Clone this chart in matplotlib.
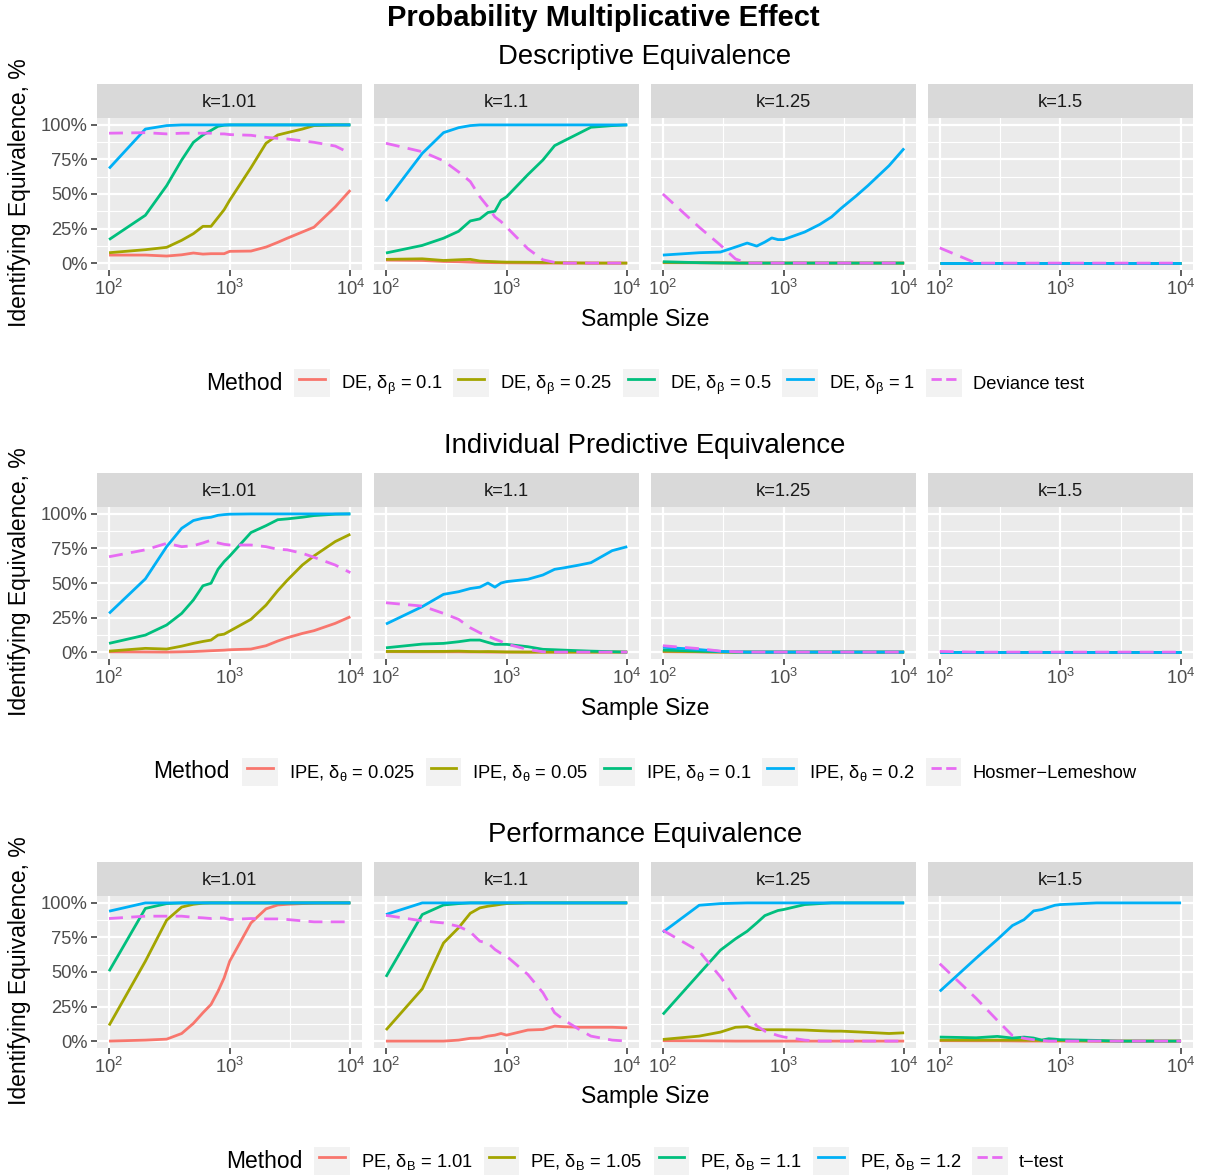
import matplotlib
matplotlib.use("Agg")
import matplotlib.pyplot as plt
from matplotlib.lines import Line2D
from matplotlib.patches import Rectangle
from matplotlib.legend_handler import HandlerLine2D
from matplotlib.ticker import FixedLocator

plt.rcParams['font.family'] = ['Liberation Sans', 'DejaVu Sans']
plt.rcParams['mathtext.fontset'] = 'custom'
plt.rcParams['mathtext.rm'] = 'Liberation Sans'
plt.rcParams['mathtext.it'] = 'Liberation Sans:italic'
plt.rcParams['mathtext.bf'] = 'Liberation Sans:bold'

# sample sizes
n = [100, 200, 300, 400, 500, 600, 700, 800, 900, 1000, 1500, 2000, 2500, 3000, 4000, 5000, 7500, 10000]
ks = ['k=1.01', 'k=1.1', 'k=1.25', 'k=1.5']
colors = ['#F8766D', '#A3A500', '#00BF7D', '#00B0F6', '#E76BF3']

# --- Descriptive equivalence (red, olive, green, blue, deviance test) ---
de_101 = [
    [5.8, 5.8, 5.1, 6.0, 7.3, 6.5, 6.8, 6.8, 6.8, 8.5, 8.7, 11.6, 15.0, 18.0, 22.5, 26.0, 40.7, 52.8],
    [7.5, 9.7, 11.4, 16.5, 21.3, 26.6, 26.6, 33.0, 38.7, 45.5, 69.0, 86.7, 92.7, 94.4, 97.0, 99.5, 100, 100],
    [17.0, 34.6, 56.0, 74.6, 87.4, 92.7, 96.0, 99.0, 99.8, 100, 100, 100, 100, 100, 100, 100, 100, 100],
    [68.5, 97.0, 99.5, 100, 100, 100, 100, 100, 100, 100, 100, 100, 100, 100, 100, 100, 100, 100],
    [94.0, 94.4, 93.5, 94.0, 94.0, 94.0, 94.0, 93.5, 93.5, 93.0, 92.5, 91.0, 90.3, 89.8, 88.5, 87.4, 84.7, 79.4],
]
de_110 = [
    [2.2, 1.9, 1.2, 1.0, 0.7, 0.5, 0.4, 0.3, 0.3, 0.2, 0.1, 0, 0, 0, 0, 0, 0, 0],
    [2.7, 3.1, 1.9, 2.4, 2.7, 1.5, 1.2, 1.0, 0.8, 0.7, 0.6, 0.5, 0.3, 0.2, 0.1, 0, 0, 0],
    [7.3, 12.8, 18.0, 23.0, 30.5, 32.0, 36.6, 37.5, 45.5, 48.0, 64.0, 74.6, 85.0, 88.5, 94.0, 98.3, 99.5, 100],
    [44.8, 79.4, 94.4, 98.0, 99.5, 100, 100, 100, 100, 100, 100, 100, 100, 100, 100, 100, 100, 100],
    [86.7, 80.6, 74.0, 66.0, 59.0, 48.0, 40.7, 33.4, 30.0, 26.0, 10.4, 2.4, 0.5, 0, 0, 0, 0, 0],
]
de_125 = [
    [0.3, 0.2, 0.1, 0, 0, 0, 0, 0, 0, 0, 0, 0, 0, 0, 0, 0, 0, 0],
    [0.5, 0.3, 0.2, 0.1, 0, 0, 0, 0, 0, 0, 0, 0, 0, 0, 0, 0, 0, 0],
    [1.0, 0.3, 0.1, 0, 0, 0, 0, 0, 0, 0, 0, 0, 0, 0, 0, 0, 0, 0],
    [5.8, 7.5, 8.0, 11.6, 14.5, 12.3, 15.2, 18.2, 17.0, 17.0, 22.5, 28.0, 33.4, 39.6, 48.6, 56.0, 70.5, 83.0],
    [50.0, 26.0, 13.0, 3.0, 0, 0, 0, 0, 0, 0, 0, 0, 0, 0, 0, 0, 0, 0],
]
de_150 = [
    [0, 0, 0, 0, 0, 0, 0, 0, 0, 0, 0, 0, 0, 0, 0, 0, 0, 0],
    [0, 0, 0, 0, 0, 0, 0, 0, 0, 0, 0, 0, 0, 0, 0, 0, 0, 0],
    [0, 0, 0, 0, 0, 0, 0, 0, 0, 0, 0, 0, 0, 0, 0, 0, 0, 0],
    [0, 0, 0, 0, 0, 0, 0, 0, 0, 0, 0, 0, 0, 0, 0, 0, 0, 0],
    [11.0, 0, 0, 0, 0, 0, 0, 0, 0, 0, 0, 0, 0, 0, 0, 0, 0, 0],
]

# --- Individual predictive equivalence (red, olive, green, blue, Hosmer-Lemeshow) ---
ipe_101 = [
    [0.2, 0.1, 0, 0.2, 0.4, 0.7, 1.0, 1.2, 1.4, 1.7, 2.2, 4.6, 8.0, 10.4, 13.5, 15.5, 20.8, 25.6],
    [0.7, 2.7, 2.2, 4.3, 6.3, 7.7, 8.7, 12.3, 13.0, 15.2, 23.7, 34.0, 44.4, 52.0, 63.0, 69.6, 80.0, 85.3],
    [6.3, 12.3, 19.6, 28.0, 37.7, 48.0, 49.8, 59.9, 65.5, 69.5, 86.5, 91.5, 95.8, 96.4, 97.6, 98.8, 99.8, 100],
    [28.0, 53.0, 76.3, 89.6, 95.2, 96.9, 97.6, 99.0, 99.5, 99.8, 100, 100, 100, 100, 100, 100, 100, 100],
    [69.0, 74.0, 78.7, 76.3, 77.0, 79.0, 81.0, 79.0, 78.0, 77.5, 77.5, 76.3, 74.4, 74.0, 71.5, 68.6, 63.0, 57.5],
]
ipe_110 = [
    [0.3, 0.2, 0.2, 0.2, 0.1, 0.1, 0, 0, 0, 0, 0, 0, 0, 0, 0, 0, 0, 0],
    [0.5, 0.5, 0.5, 0.7, 0.4, 0.3, 0.4, 0.3, 0.2, 0.1, 0, 0, 0, 0, 0, 0, 0, 0],
    [3.1, 5.8, 6.3, 7.5, 8.7, 8.7, 7.0, 5.6, 5.6, 5.6, 3.9, 2.0, 1.7, 1.4, 1.0, 0.7, 0.3, 0],
    [20.3, 32.9, 41.8, 43.7, 46.0, 47.0, 50.0, 47.0, 50.0, 51.0, 52.7, 55.8, 59.9, 61.0, 63.0, 64.7, 73.4, 76.3],
    [35.7, 33.3, 28.0, 23.7, 17.6, 14.0, 11.6, 9.4, 7.7, 5.8, 1.9, 0.2, 0, 0, 0, 0, 0, 0],
]
ipe_125 = [
    [0.3, 0.1, 0, 0, 0, 0, 0, 0, 0, 0, 0, 0, 0, 0, 0, 0, 0, 0],
    [0.7, 0.3, 0, 0, 0, 0, 0, 0, 0, 0, 0, 0, 0, 0, 0, 0, 0, 0],
    [1.5, 0.7, 0.3, 0, 0, 0, 0, 0, 0, 0, 0, 0, 0, 0, 0, 0, 0, 0],
    [3.5, 1.8, 0.5, 0.2, 0, 0, 0, 0, 0, 0, 0, 0, 0, 0, 0, 0, 0, 0],
    [4.6, 2.5, 0.7, 0.3, 0, 0, 0, 0, 0, 0, 0, 0, 0, 0, 0, 0, 0, 0],
]
ipe_150 = [
    [0, 0, 0, 0, 0, 0, 0, 0, 0, 0, 0, 0, 0, 0, 0, 0, 0, 0],
    [0, 0, 0, 0, 0, 0, 0, 0, 0, 0, 0, 0, 0, 0, 0, 0, 0, 0],
    [0, 0, 0, 0, 0, 0, 0, 0, 0, 0, 0, 0, 0, 0, 0, 0, 0, 0],
    [0, 0, 0, 0, 0, 0, 0, 0, 0, 0, 0, 0, 0, 0, 0, 0, 0, 0],
    [0.5, 0, 0, 0, 0, 0, 0, 0, 0, 0, 0, 0, 0, 0, 0, 0, 0, 0],
]

# --- Performance equivalence (red, olive, green, blue, t-test) ---
pe_101 = [
    [0, 0.7, 1.4, 5.5, 12.8, 20.5, 26.5, 36.0, 45.8, 57.8, 85.5, 95.7, 98.5, 99.0, 99.5, 99.8, 100, 100],
    [11.3, 57.8, 87.5, 97.0, 99.0, 99.8, 100, 100, 100, 100, 100, 100, 100, 100, 100, 100, 100, 100],
    [50.6, 96.0, 99.5, 100, 100, 100, 100, 100, 100, 100, 100, 100, 100, 100, 100, 100, 100, 100],
    [94.0, 100, 100, 100, 100, 100, 100, 100, 100, 100, 100, 100, 100, 100, 100, 100, 100, 100],
    [88.7, 90.4, 90.4, 90.4, 89.6, 89.2, 88.7, 89.2, 89.0, 88.0, 88.7, 88.4, 88.4, 88.0, 87.0, 86.3, 86.3, 86.3],
]
pe_110 = [
    [0, 0, 0, 0.7, 2.0, 2.2, 3.6, 4.3, 5.5, 4.3, 8.0, 8.4, 10.8, 10.4, 10.0, 10.0, 10.0, 9.6],
    [8.0, 37.8, 71.0, 82.0, 92.5, 96.4, 97.6, 98.3, 99.0, 99.5, 100, 100, 100, 100, 100, 100, 100, 100],
    [46.5, 91.6, 98.5, 99.5, 100, 100, 100, 100, 100, 100, 100, 100, 100, 100, 100, 100, 100, 100],
    [91.6, 100, 100, 100, 100, 100, 100, 100, 100, 100, 100, 100, 100, 100, 100, 100, 100, 100],
    [91.0, 87.0, 85.5, 83.0, 79.0, 72.3, 71.0, 66.3, 63.4, 61.4, 48.2, 35.0, 20.5, 15.2, 8.4, 3.6, 0.7, 0],
]
pe_125 = [
    [0.3, 0.2, 0.1, 0, 0, 0, 0, 0, 0, 0, 0, 0, 0, 0, 0, 0, 0, 0],
    [1.2, 3.6, 6.5, 10.0, 10.4, 8.4, 8.2, 8.2, 8.2, 8.2, 8.0, 7.5, 7.2, 7.2, 6.7, 6.3, 5.5, 6.0],
    [19.3, 48.7, 65.8, 74.0, 79.5, 85.5, 90.8, 92.8, 94.5, 95.2, 98.8, 99.5, 100, 100, 100, 100, 100, 100],
    [78.8, 98.3, 99.5, 99.8, 100, 100, 100, 100, 100, 100, 100, 100, 100, 100, 100, 100, 100, 100],
    [80.2, 65.0, 46.5, 31.0, 20.0, 11.0, 7.2, 5.5, 4.0, 3.0, 0.7, 0, 0, 0, 0, 0, 0, 0],
]
pe_150 = [
    [0.3, 0.2, 0.2, 0.1, 0, 0, 0, 0, 0, 0, 0, 0, 0, 0, 0, 0, 0, 0],
    [0.7, 0.7, 0.7, 0.7, 0.7, 0.6, 0.6, 0.5, 0.5, 0.5, 0.2, 0, 0, 0, 0, 0, 0, 0],
    [2.9, 2.4, 3.4, 2.2, 2.9, 2.2, 0.7, 1.7, 1.4, 1.0, 0.7, 0.5, 0.2, 0, 0, 0, 0, 0],
    [36.0, 60.0, 73.5, 83.6, 87.9, 94.2, 95.2, 96.9, 98.3, 98.8, 99.5, 100, 100, 100, 100, 100, 100, 100],
    [56.0, 31.0, 15.0, 4.0, 2.0, 1.0, 0.5, 0, 0, 0, 0, 0, 0, 0, 0, 0, 0, 0],
]

de_labels = [r'DE, $\mathrm{\delta_{\beta}}$ = 0.1', r'DE, $\mathrm{\delta_{\beta}}$ = 0.25',
             r'DE, $\mathrm{\delta_{\beta}}$ = 0.5', r'DE, $\mathrm{\delta_{\beta}}$ = 1', 'Deviance test']
ipe_labels = [r'IPE, $\mathrm{\delta_{\theta}}$ = 0.025', r'IPE, $\mathrm{\delta_{\theta}}$ = 0.05',
              r'IPE, $\mathrm{\delta_{\theta}}$ = 0.1', r'IPE, $\mathrm{\delta_{\theta}}$ = 0.2', 'Hosmer\u2212Lemeshow']
pe_labels = [r'PE, $\mathrm{\delta_{B}}$ = 1.01', r'PE, $\mathrm{\delta_{B}}$ = 1.05',
             r'PE, $\mathrm{\delta_{B}}$ = 1.1', r'PE, $\mathrm{\delta_{B}}$ = 1.2', 't\u2212test']

rows = [
    ('Descriptive Equivalence', [de_101, de_110, de_125, de_150], de_labels),
    ('Individual Predictive Equivalence', [ipe_101, ipe_110, ipe_125, ipe_150], ipe_labels),
    ('Performance Equivalence', [pe_101, pe_110, pe_125, pe_150], pe_labels),
]

W, H = 1207, 1176
fig = plt.figure(figsize=(W / 100, H / 100), dpi=100)

LW = 2.0
DASH = (0, (5, 3))


def px_axes(x0, y0, w, h):
    return fig.add_axes([x0 / W, 1 - (y0 + h) / H, w / W, h / H])


class KeyHandler(HandlerLine2D):
    # grey key box behind the line, like ggplot legends
    def create_artists(self, legend, orig_handle, xdescent, ydescent, width, height, fontsize, trans):
        bg = Rectangle((-xdescent, -ydescent), width, height, facecolor='#F2F2F2',
                       edgecolor='none', transform=trans)
        yc = (height - ydescent) / 2
        ln = Line2D([-xdescent + 0.14 * width, -xdescent + 0.86 * width], [yc, yc],
                    color=orig_handle.get_color(), lw=orig_handle.get_linewidth(),
                    linestyle=orig_handle.get_linestyle(), transform=trans)
        return [bg, ln]


panel_w = 265.4
gap = 11.5
strip_h = 34
panel_h = 152
row_step = 389
legends = []

for r, (title, panels, labels) in enumerate(rows):
    top = 84 + r * row_step
    for c, series in enumerate(panels):
        x0 = 97 + c * (panel_w + gap)
        # strip
        sa = px_axes(x0, top, panel_w, strip_h)
        sa.set_facecolor('#D9D9D9')
        sa.set_xticks([]); sa.set_yticks([])
        for s in sa.spines.values():
            s.set_visible(False)
        sa.text(0.5, 0.47, ks[c], ha='center', va='center', fontsize=13.2, color='#1A1A1A',
                transform=sa.transAxes)
        # panel
        ax = px_axes(x0, top + strip_h, panel_w, panel_h)
        ax.set_facecolor('#EBEBEB')
        for i, vals in enumerate(series):
            ls = DASH if i == 4 else '-'
            ax.plot(n, vals, color=colors[i], lw=LW, linestyle=ls, solid_capstyle='butt')
        ax.set_xscale('log')
        ax.set_xlim(10 ** 1.9, 10 ** 4.1)
        ax.set_ylim(-5, 105)
        ax.xaxis.set_major_locator(FixedLocator([100, 1000, 10000]))
        ax.xaxis.set_minor_locator(FixedLocator([10 ** 2.5, 10 ** 3.5]))
        ax.set_xticklabels([r'$10^{2}$', r'$10^{3}$', r'$10^{4}$'])
        ax.yaxis.set_major_locator(FixedLocator([0, 25, 50, 75, 100]))
        ax.yaxis.set_minor_locator(FixedLocator([12.5, 37.5, 62.5, 87.5]))
        ax.grid(which='major', color='white', lw=1.6)
        ax.grid(which='minor', color='white', lw=0.8)
        ax.set_axisbelow(True)
        for s in ax.spines.values():
            s.set_visible(False)
        ax.tick_params(which='major', length=4.1, width=1.1, color='#333333',
                       labelsize=13.2, labelcolor='#4D4D4D', pad=2.5)
        ax.tick_params(which='minor', length=0)
        if c == 0:
            ax.set_yticklabels(['0%', '25%', '50%', '75%', '100%'])
        else:
            ax.set_yticklabels([])
            ax.tick_params(axis='y', which='major', length=0)

    fig.text(645 / W, 1 - (top - 27) / H, title, ha='center', va='center', fontsize=19.8)
    fig.text(645 / W, 1 - (top + 235) / H, 'Sample Size', ha='center', va='center', fontsize=16.5)
    fig.text(20 / W, 1 - (top + 109) / H, 'Identifying Equivalence, %', ha='center', va='center',
             rotation=90, fontsize=16.5)

    handles = [Line2D([], [], color=colors[i], lw=LW, linestyle='-') for i in range(4)]
    handles.append(Line2D([], [], color=colors[4], lw=LW, linestyle=DASH))
    cy = 1 - (top + 299) / H
    leg = fig.legend(handles, labels, loc='center left', bbox_to_anchor=(0, cy), ncol=5,
                     frameon=False, fontsize=13.2, handlelength=1.95, handleheight=1.95,
                     handletextpad=0.6, columnspacing=0.6, borderpad=0, borderaxespad=0,
                     handler_map={Line2D: KeyHandler()})
    mt = fig.text(0, cy, 'Method', ha='left', va='center', fontsize=16.5)
    legends.append((leg, mt, cy))

fig.text(0.5, 1 - 18 / H, 'Probability Multiplicative Effect', ha='center', va='center',
         fontsize=21, fontweight='bold')

# centre "Method" + legend entries under the panels
fig.canvas.draw()
renderer = fig.canvas.get_renderer()
for leg, mt, cy in legends:
    lw_px = leg.get_window_extent(renderer).width
    mw_px = mt.get_window_extent(renderer).width
    total = mw_px + 12 + lw_px
    left = 645 - total / 2
    mt.set_x(left / W)
    leg.set_bbox_to_anchor(((left + mw_px + 12) / W, cy), transform=fig.transFigure)

fig.savefig('out.png', dpi=100)
